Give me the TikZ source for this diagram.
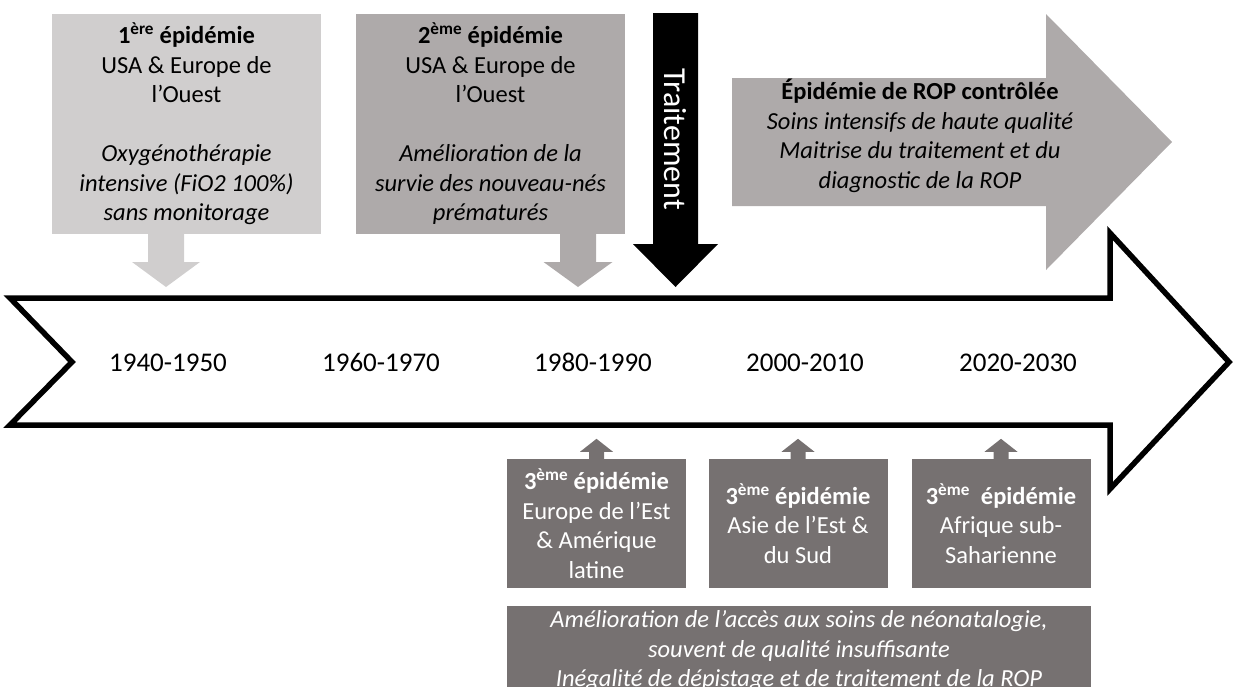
\documentclass[tikz,border=0pt]{standalone}
\usepackage{fontspec}
\setmainfont{Carlito}
\usepackage{xcolor}
\definecolor{gris_clair}{RGB}{208,206,206}
\definecolor{gris_moyen}{RGB}{174,170,170}
\definecolor{gris_fonce}{RGB}{118,113,113}
\usepackage{tikz}

\begin{document}
\begin{tikzpicture}
[
    x = 1pt, y = -1pt,
    texte/.style = {align = center, inner sep = 0pt, font = \fontsize{24.5}{29.5}\selectfont},
    haut/.style = {texte, minimum width = 269pt, minimum height = 220pt},
    bas/.style = {texte, fill = gris_fonce, text = white, minimum width = 179pt, minimum height = 129pt},
    annee/.style = {font = \fontsize{27}{32}\selectfont, text height = 18pt, text depth = 0pt, inner sep = 0pt},
    pics/bloc/.style args = {#1/#2/#3/#4}{code = {
        \path[pic actions] (-#1,0) -- (#1,0) -- (#1,#3) -- (#2,#3) -- (0,{#3+#4}) -- (-#2,#3) -- (-#1,#3) -- cycle;
    }}
]
\clip (0,0) rectangle (1235,686);

\draw[line width = 5.5pt, miter limit = 10] (10,298) -- (1110,298) -- (1110,233) -- (1229,362) -- (1110,489) -- (1110,425) -- (10,425) -- (72,362) -- cycle;
\foreach \x/\a/\n in {168/1940-1950/an1940, 381/1960-1970/an1960, 593/1980-1990/an1980, 805/2000-2010/an2000, 1018/2020-2030/an2020}
	\node[annee] (\n) at (\x,362) {\a};

\node[haut, fill = gris_clair] (epi1) at (186.5,124) {\textbf{1\textsuperscript{ère} épidémie}\\ USA \& Europe de\\ l’Ouest\\[29.5pt] \textit{Oxygénothérapie}\\ \textit{intensive (FiO2 100\%)}\\ \textit{sans monitorage}};
\pic[fill = gris_clair] at (166,234) {bloc = 18/34/28/25};

\node[haut, fill = gris_moyen] (epi2) at (490.5,124) {\textbf{2\textsuperscript{ème} épidémie}\\ USA \& Europe de\\ l’Ouest\\[29.5pt] \textit{Amélioration de la}\\ \textit{survie des nouveau-nés}\\ \textit{prématurés}};
\pic[fill = gris_moyen] at (578,234) {bloc = 18/34.5/28/25};

\pic[fill = black] at (675.5,13) {bloc = 22.5/42.5/231/43};
\node[texte, rotate = -90, text = white, font = \fontsize{32}{38}\selectfont] (trait) at (675,139) {Traitement};

\fill[gris_moyen] (732,78) -- (1046,78) -- (1046,14) -- (1172,142) -- (1046,270) -- (1046,206) -- (732,206) -- cycle;
\node[texte] (rop) at (920,136) {\textbf{Épidémie de ROP contrôlée}\\ \textit{Soins intensifs de haute qualité}\\ \textit{Maitrise du traitement et du}\\ \textit{diagnostic de la ROP}};

\node[bas] (epi3a) at (596.5,523.5) {\textbf{3\textsuperscript{ème} épidémie}\\ Europe de l’Est\\ \& Amérique\\ latine};
\node[bas] (epi3b) at (798,523.5) {\textbf{3\textsuperscript{ème} épidémie}\\ Asie de l’Est \&\\ du Sud};
\node[bas] (epi3c) at (1001,523.5) {\textbf{3\textsuperscript{ème}~ épidémie}\\ Afrique sub-\\ Saharienne};
\foreach \n in {epi3a, epi3b, epi3c}
	\pic[fill = gris_fonce, rotate = 180] at (\n.north) {bloc = 7.5/16.5/7/13};

\node[texte, fill = gris_fonce, text = white, minimum width = 584pt, minimum height = 90pt] (acces) at (799,651) {\textit{Amélioration de l’accès aux soins de néonatalogie,}\\ \textit{souvent de qualité insuffisante}\\ \textit{Inégalité de dépistage et de traitement de la ROP}};
\end{tikzpicture}
\end{document}
